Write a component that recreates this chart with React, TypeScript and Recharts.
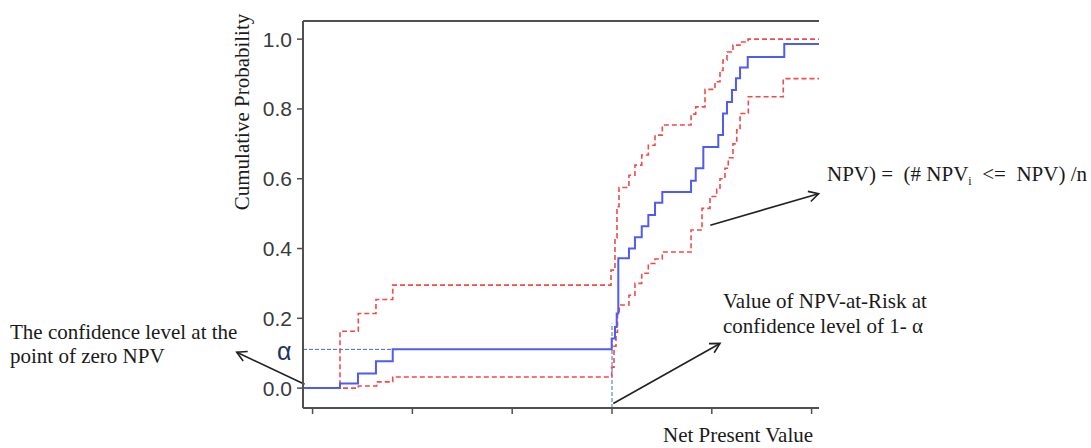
import React from 'react';
import { LineChart, Line, XAxis, YAxis, ReferenceLine } from 'recharts';

// NPV axis ticks (unlabelled in the source) and probability ticks
const npvTicks = [-30, -20, -10, 0, 10, 20];
const probTicks = [0, 0.2, 0.4, 0.6, 0.8, 1.0];
const npvDomain = [-30.96, 20.74];
const probDomain = [-0.057, 1.052];

// empirical CDF of NPV (blue step line)
const ecdfX = [-30.96, -27.25, -25.45, -23.65, -21.97, -0.03, 0.3, 0.47, 0.63, 1.7, 2.3, 2.98, 3.64, 4.31, 5.04, 7.92, 8.39, 9.15, 10.65, 11.12, 11.52, 12.02, 12.42, 12.83, 13.6, 17.26, 20.74];
const ecdfY = [0, 0.013, 0.042, 0.077, 0.111, 0.142, 0.175, 0.214, 0.372, 0.4, 0.432, 0.464, 0.496, 0.531, 0.562, 0.594, 0.63, 0.691, 0.725, 0.787, 0.82, 0.854, 0.888, 0.919, 0.949, 0.986, 0.986];

// upper confidence band (red dashed)
const upperX = [-30.96, -27.25, -25.42, -23.65, -21.97, -0.1, 0.3, 0.5, 0.7, 1.7, 2.3, 2.98, 3.64, 4.31, 5.04, 7.92, 8.39, 9.32, 10.32, 10.82, 11.12, 11.52, 12.12, 12.83, 13.63, 20.74];
const upperY = [0, 0.163, 0.214, 0.254, 0.295, 0.338, 0.43, 0.52, 0.575, 0.61, 0.639, 0.668, 0.696, 0.725, 0.754, 0.785, 0.806, 0.856, 0.878, 0.91, 0.94, 0.963, 0.983, 0.992, 1.0, 1.0];

// lower confidence band (red dashed)
const lowerX = [-30.96, -25.42, -23.58, -21.97, -0.03, 0.2, 0.4, 0.55, 0.73, 1.7, 2.3, 2.98, 3.64, 4.31, 5.04, 7.92, 9.02, 9.82, 10.49, 10.82, 11.32, 11.65, 12.12, 12.5, 12.83, 13.66, 17.16, 20.74];
const lowerY = [0, 0.006, 0.018, 0.032, 0.06, 0.12, 0.16, 0.214, 0.238, 0.266, 0.3, 0.329, 0.357, 0.37, 0.39, 0.453, 0.515, 0.549, 0.57, 0.6, 0.63, 0.66, 0.7, 0.74, 0.787, 0.835, 0.887, 0.887];

const alpha = 0.111;
const npvAtRisk = 0;
const npvAtRiskTop = 0.185;

// annotation arrows [from, to] in chart units
const arrows = [
  [{ x: -30.8, y: 0.011 }, { x: -37.6, y: 0.103 }],
  [{ x: 0.13, y: -0.044 }, { x: 10.82, y: 0.128 }],
  [{ x: 9.85, y: 0.467 }, { x: 20.7, y: 0.557 }],
];

const toPoints = (xs: number[], ys: number[]) => xs.map((x, i) => ({ npv: x, p: ys[i] }));

const serif = '"Liberation Serif", "Times New Roman", serif';
const sans = '"Liberation Sans", Arial, sans-serif';
const axisColor = '#505050';
const textColor = '#1a1a1a';
const nb = '\u00A0';

const Arrow = (props: any) => {
  const { x1, y1, x2, y2 } = props;
  const a = Math.atan2(y2 - y1, x2 - x1);
  const len = 11;
  const spread = 0.5;
  const hx1 = x2 - len * Math.cos(a - spread);
  const hy1 = y2 - len * Math.sin(a - spread);
  const hx2 = x2 - len * Math.cos(a + spread);
  const hy2 = y2 - len * Math.sin(a + spread);
  return (
    <g stroke="#222" strokeWidth={1.6} fill="none">
      <line x1={x1} y1={y1} x2={x2} y2={y2} />
      <polyline points={`${hx1},${hy1} ${x2},${y2} ${hx2},${hy2}`} />
    </g>
  );
};

const App: React.FC = () => {
  return (
    <div style={{ position: 'absolute', left: 0, top: 0, width: 1091, height: 448, background: '#fff' }}>
      <LineChart width={1091} height={448} margin={{ top: 21, right: 272, left: 0, bottom: 0 }}>
        <XAxis
          dataKey="npv"
          type="number"
          domain={npvDomain}
          allowDataOverflow
          ticks={npvTicks}
          tickFormatter={() => ''}
          height={40}
          stroke={axisColor}
          axisLine={{ stroke: axisColor, strokeWidth: 2 }}
          tickLine={{ stroke: axisColor, strokeWidth: 1.5 }}
          tickSize={6}
        />
        <YAxis
          type="number"
          domain={probDomain}
          allowDataOverflow
          ticks={probTicks}
          width={303}
          tickFormatter={(v: number) => v.toFixed(1)}
          tick={{ fill: '#3a3a3a', fontSize: 21, fontFamily: sans }}
          tickMargin={5}
          tickSize={6}
          axisLine={{ stroke: axisColor, strokeWidth: 2 }}
          tickLine={{ stroke: axisColor, strokeWidth: 1.5 }}
        />
        <ReferenceLine y={probDomain[1]} stroke={axisColor} strokeWidth={2} ifOverflow="visible" />
        <ReferenceLine
          segment={[{ x: npvDomain[0], y: alpha }, { x: -21.97, y: alpha }]}
          stroke="#3a6fc0"
          strokeWidth={1}
          strokeDasharray="4 2"
        />
        <ReferenceLine
          segment={[{ x: npvAtRisk, y: probDomain[0] }, { x: npvAtRisk, y: npvAtRiskTop }]}
          stroke="#3a6fc0"
          strokeWidth={1}
          strokeDasharray="4 2"
          ifOverflow="visible"
        />
        <Line
          data={toPoints(upperX, upperY)}
          dataKey="p"
          type="stepAfter"
          stroke="#f24a4a"
          strokeWidth={1.6}
          strokeDasharray="5 3"
          dot={false}
          isAnimationActive={false}
        />
        <Line
          data={toPoints(lowerX, lowerY)}
          dataKey="p"
          type="stepAfter"
          stroke="#f24a4a"
          strokeWidth={1.6}
          strokeDasharray="5 3"
          dot={false}
          isAnimationActive={false}
        />
        <Line
          data={toPoints(ecdfX, ecdfY)}
          dataKey="p"
          type="stepAfter"
          stroke="#4f5cf2"
          strokeWidth={2}
          dot={false}
          isAnimationActive={false}
        />
        {arrows.map((seg, i) => (
          <ReferenceLine key={i} segment={seg} ifOverflow="visible" shape={Arrow} />
        ))}
      </LineChart>
      <svg width={1091} height={448} style={{ position: 'absolute', left: 0, top: 0, pointerEvents: 'none' }}>
        <g fontFamily={serif} fontSize={21} fill={textColor}>
          <text x={10} y={339}>The confidence level at the</text>
          <text x={10} y={363}>point of zero NPV</text>
          <text x={827} y={181}>
            {`NPV) =${nb} (# NPV`}
            <tspan fontSize={12} dy={4}>i</tspan>
            <tspan dy={-4}>{`${nb} <=${nb} NPV) /n`}</tspan>
          </text>
          <text x={723} y={308}>Value of NPV-at-Risk at</text>
          <text x={723} y={333}>confidence level of 1- α</text>
          <text x={663} y={442}>Net Present Value</text>
          <text transform="translate(249,112) rotate(-90)" textAnchor="middle">Cumulative Probability</text>
        </g>
        <text x={277} y={360} fontFamily={sans} fontSize={25} fill="#1f3566">α</text>
      </svg>
    </div>
  );
};

export default App;
